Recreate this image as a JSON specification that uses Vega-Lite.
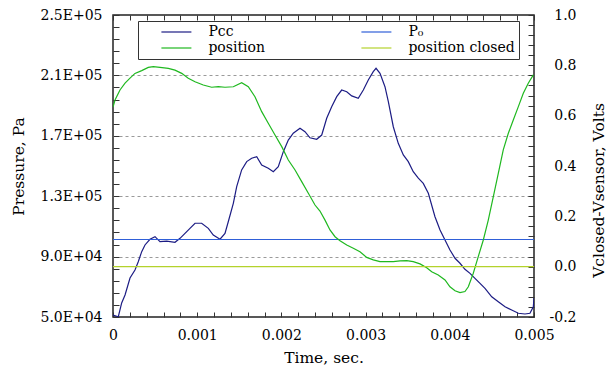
{
  "$schema": "https://vega.github.io/schema/vega-lite/v6.json",
  "width": 421,
  "height": 302,
  "autosize": "none",
  "padding": {"left": 113, "top": 15, "right": 78, "bottom": 49},
  "config": {
    "font": "DejaVu Serif",
    "view": {"stroke": "#222", "strokeWidth": 1.5},
    "axis": {
      "labelFont": "DejaVu Serif",
      "titleFont": "DejaVu Serif",
      "labelFontSize": 14,
      "labelColor": "#000",
      "titleFontSize": 15.5,
      "titleFontWeight": "normal",
      "titleColor": "#000",
      "tickColor": "#333",
      "tickWidth": 1,
      "domain": false,
      "labelFlush": false,
      "labelOverlap": false,
      "labelBound": false
    },
    "legend": {
      "labelFont": "DejaVu Serif",
      "titleFont": "DejaVu Serif",
      "labelFontSize": 14,
      "labelColor": "#000"
    }
  },
  "layer": [
    {
      "data": {
        "values": [
          {"t": 0, "P": 51300, "series": "Pcc"},
          {"t": 0.000063, "P": 50200, "series": "Pcc"},
          {"t": 0.000103, "P": 59300, "series": "Pcc"},
          {"t": 0.000143, "P": 64600, "series": "Pcc"},
          {"t": 0.000202, "P": 75800, "series": "Pcc"},
          {"t": 0.000261, "P": 81100, "series": "Pcc"},
          {"t": 0.0003, "P": 86600, "series": "Pcc"},
          {"t": 0.000341, "P": 93300, "series": "Pcc"},
          {"t": 0.00038, "P": 97700, "series": "Pcc"},
          {"t": 0.000439, "P": 101500, "series": "Pcc"},
          {"t": 0.000499, "P": 103200, "series": "Pcc"},
          {"t": 0.000558, "P": 99900, "series": "Pcc"},
          {"t": 0.000638, "P": 100300, "series": "Pcc"},
          {"t": 0.000736, "P": 99500, "series": "Pcc"},
          {"t": 0.000796, "P": 102100, "series": "Pcc"},
          {"t": 0.000855, "P": 105400, "series": "Pcc"},
          {"t": 0.000914, "P": 108700, "series": "Pcc"},
          {"t": 0.000974, "P": 112100, "series": "Pcc"},
          {"t": 0.001053, "P": 112100, "series": "Pcc"},
          {"t": 0.001132, "P": 108700, "series": "Pcc"},
          {"t": 0.001191, "P": 104300, "series": "Pcc"},
          {"t": 0.001271, "P": 101500, "series": "Pcc"},
          {"t": 0.00133, "P": 105400, "series": "Pcc"},
          {"t": 0.001369, "P": 113100, "series": "Pcc"},
          {"t": 0.001429, "P": 125300, "series": "Pcc"},
          {"t": 0.001469, "P": 136300, "series": "Pcc"},
          {"t": 0.001528, "P": 147400, "series": "Pcc"},
          {"t": 0.001588, "P": 152900, "series": "Pcc"},
          {"t": 0.001647, "P": 155100, "series": "Pcc"},
          {"t": 0.001707, "P": 156200, "series": "Pcc"},
          {"t": 0.001766, "P": 150700, "series": "Pcc"},
          {"t": 0.001844, "P": 148500, "series": "Pcc"},
          {"t": 0.001904, "P": 146200, "series": "Pcc"},
          {"t": 0.001963, "P": 149500, "series": "Pcc"},
          {"t": 0.002023, "P": 159500, "series": "Pcc"},
          {"t": 0.002082, "P": 167200, "series": "Pcc"},
          {"t": 0.002141, "P": 171700, "series": "Pcc"},
          {"t": 0.002221, "P": 175000, "series": "Pcc"},
          {"t": 0.00228, "P": 172700, "series": "Pcc"},
          {"t": 0.002339, "P": 168700, "series": "Pcc"},
          {"t": 0.002419, "P": 167700, "series": "Pcc"},
          {"t": 0.002479, "P": 170500, "series": "Pcc"},
          {"t": 0.002538, "P": 181600, "series": "Pcc"},
          {"t": 0.002597, "P": 189300, "series": "Pcc"},
          {"t": 0.002657, "P": 195900, "series": "Pcc"},
          {"t": 0.002716, "P": 200300, "series": "Pcc"},
          {"t": 0.002776, "P": 199200, "series": "Pcc"},
          {"t": 0.002835, "P": 196400, "series": "Pcc"},
          {"t": 0.002913, "P": 194800, "series": "Pcc"},
          {"t": 0.002973, "P": 200300, "series": "Pcc"},
          {"t": 0.003032, "P": 207000, "series": "Pcc"},
          {"t": 0.003091, "P": 212500, "series": "Pcc"},
          {"t": 0.003124, "P": 214700, "series": "Pcc"},
          {"t": 0.003171, "P": 211400, "series": "Pcc"},
          {"t": 0.00323, "P": 202500, "series": "Pcc"},
          {"t": 0.00327, "P": 192600, "series": "Pcc"},
          {"t": 0.003329, "P": 176000, "series": "Pcc"},
          {"t": 0.003388, "P": 165000, "series": "Pcc"},
          {"t": 0.003448, "P": 157300, "series": "Pcc"},
          {"t": 0.003507, "P": 152900, "series": "Pcc"},
          {"t": 0.003566, "P": 146200, "series": "Pcc"},
          {"t": 0.003626, "P": 141900, "series": "Pcc"},
          {"t": 0.003685, "P": 138500, "series": "Pcc"},
          {"t": 0.003745, "P": 131900, "series": "Pcc"},
          {"t": 0.003824, "P": 116400, "series": "Pcc"},
          {"t": 0.003884, "P": 107600, "series": "Pcc"},
          {"t": 0.003943, "P": 101000, "series": "Pcc"},
          {"t": 0.004002, "P": 94400, "series": "Pcc"},
          {"t": 0.004062, "P": 88900, "series": "Pcc"},
          {"t": 0.004121, "P": 85600, "series": "Pcc"},
          {"t": 0.00418, "P": 81600, "series": "Pcc"},
          {"t": 0.00424, "P": 78900, "series": "Pcc"},
          {"t": 0.004299, "P": 75600, "series": "Pcc"},
          {"t": 0.004359, "P": 72300, "series": "Pcc"},
          {"t": 0.004418, "P": 69000, "series": "Pcc"},
          {"t": 0.004498, "P": 63400, "series": "Pcc"},
          {"t": 0.004576, "P": 60100, "series": "Pcc"},
          {"t": 0.004656, "P": 56800, "series": "Pcc"},
          {"t": 0.004735, "P": 54600, "series": "Pcc"},
          {"t": 0.004814, "P": 52500, "series": "Pcc"},
          {"t": 0.004893, "P": 52000, "series": "Pcc"},
          {"t": 0.004952, "P": 52500, "series": "Pcc"},
          {"t": 0.004992, "P": 56800, "series": "Pcc"},
          {"t": 0.005, "P": 62600, "series": "Pcc"},
          {"t": 0, "P": 101325, "series": "P₀"},
          {"t": 0.005, "P": 101325, "series": "P₀"}
        ]
      },
      "mark": {"type": "line", "strokeWidth": 1.2, "clip": true},
      "encoding": {
        "x": {
          "field": "t", "type": "quantitative",
          "scale": {"domain": [0, 0.005], "nice": false, "zero": false},
          "axis": {
            "orient": "bottom",
            "values": [0,0.0002,0.0004,0.0006,0.0008,0.001,0.0012,0.0014,0.0016,0.0018,0.002,0.0022,0.0024,0.0026,0.0028,0.003,0.0032,0.0034,0.0036,0.0038,0.004,0.0042,0.0044,0.0046,0.0048,0.005],
            "labelExpr": "abs(datum.value*1000 - round(datum.value*1000)) < 1e-6 ? (datum.value == 0 ? '0' : format(datum.value, '.3f')) : ''",
            "tickSize": -5,
            "labelPadding": 16,
            "grid": false,
            "title": "Time, sec.",
            "titleY": 45,
            "titleBaseline": "alphabetic"
          }
        },
        "y": {
          "field": "P", "type": "quantitative",
          "scale": {"domain": [50000, 250000], "nice": false, "zero": false},
          "axis": {
            "orient": "left",
            "values": [50000,58000,66000,74000,82000,90000,98000,106000,114000,122000,130000,138000,146000,154000,162000,170000,178000,186000,194000,202000,210000,218000,226000,234000,242000,250000],
            "labelExpr": "datum.value % 40000 == 10000 ? (datum.value < 100000 ? format(datum.value/10000, '.1f') + 'E+04' : format(datum.value/100000, '.1f') + 'E+05') : ''",
            "tickSize": -6,
            "labelPadding": 17,
            "grid": true,
            "gridColor": "#9a9a9a",
            "gridDash": [3, 3],
            "gridWidth": 1,
            "gridOpacity": {"condition": {"test": "datum.value % 40000 == 10000 && datum.value > 50000 && datum.value < 250000", "value": 1}, "value": 0},
            "title": "Pressure, Pa",
            "titleAngle": -90,
            "titleX": -90,
            "titleY": 151,
            "titleAlign": "center",
            "titleBaseline": "alphabetic"
          }
        },
        "color": {
          "field": "series", "type": "nominal",
          "scale": {"domain": ["Pcc", "position", "P₀", "position closed"], "range": ["#1c1c84", "#1fb81f", "#2f5fd8", "#b4d22c"]},
          "legend": {
            "orient": "none",
            "legendX": 25,
            "legendY": 6,
            "columns": 2,
            "columnPadding": 93,
            "rowPadding": 2,
            "symbolType": "M-3,0L3,0",
            "symbolSize": 100,
            "symbolOffset": 9.4,
            "symbolStrokeWidth": 1.2,
            "labelFont": "DejaVu Serif",
            "labelFontSize": 14,
            "labelColor": "#000",
            "labelOffset": 25,
            "strokeColor": "#333",
            "padding": 4,
            "title": " ",
            "titleOrient": "left",
            "titlePadding": 18,
            "titleFontSize": 14
          }
        }
      }
    },
    {
      "data": {
        "values": [
          {"t": 0, "V": 0.634, "series": "position"},
          {"t": 0.000024, "V": 0.662, "series": "position"},
          {"t": 0.000083, "V": 0.702, "series": "position"},
          {"t": 0.000143, "V": 0.729, "series": "position"},
          {"t": 0.000202, "V": 0.749, "series": "position"},
          {"t": 0.000261, "V": 0.768, "series": "position"},
          {"t": 0.000341, "V": 0.779, "series": "position"},
          {"t": 0.000419, "V": 0.792, "series": "position"},
          {"t": 0.000479, "V": 0.795, "series": "position"},
          {"t": 0.000558, "V": 0.792, "series": "position"},
          {"t": 0.000657, "V": 0.788, "series": "position"},
          {"t": 0.000736, "V": 0.781, "series": "position"},
          {"t": 0.000816, "V": 0.768, "series": "position"},
          {"t": 0.000894, "V": 0.749, "series": "position"},
          {"t": 0.000974, "V": 0.735, "series": "position"},
          {"t": 0.001072, "V": 0.722, "series": "position"},
          {"t": 0.001172, "V": 0.713, "series": "position"},
          {"t": 0.001251, "V": 0.715, "series": "position"},
          {"t": 0.00133, "V": 0.713, "series": "position"},
          {"t": 0.001429, "V": 0.715, "series": "position"},
          {"t": 0.001528, "V": 0.731, "series": "position"},
          {"t": 0.001607, "V": 0.715, "series": "position"},
          {"t": 0.001686, "V": 0.675, "series": "position"},
          {"t": 0.001766, "V": 0.616, "series": "position"},
          {"t": 0.001844, "V": 0.57, "series": "position"},
          {"t": 0.001924, "V": 0.523, "series": "position"},
          {"t": 0.002004, "V": 0.477, "series": "position"},
          {"t": 0.002082, "V": 0.424, "series": "position"},
          {"t": 0.002162, "V": 0.384, "series": "position"},
          {"t": 0.002241, "V": 0.338, "series": "position"},
          {"t": 0.00232, "V": 0.292, "series": "position"},
          {"t": 0.002399, "V": 0.245, "series": "position"},
          {"t": 0.002458, "V": 0.221, "series": "position"},
          {"t": 0.002518, "V": 0.185, "series": "position"},
          {"t": 0.002577, "V": 0.146, "series": "position"},
          {"t": 0.002637, "V": 0.119, "series": "position"},
          {"t": 0.002696, "V": 0.103, "series": "position"},
          {"t": 0.002776, "V": 0.086, "series": "position"},
          {"t": 0.002854, "V": 0.073, "series": "position"},
          {"t": 0.002933, "V": 0.059, "series": "position"},
          {"t": 0.003013, "V": 0.037, "series": "position"},
          {"t": 0.003091, "V": 0.027, "series": "position"},
          {"t": 0.003171, "V": 0.02, "series": "position"},
          {"t": 0.003251, "V": 0.02, "series": "position"},
          {"t": 0.003329, "V": 0.02, "series": "position"},
          {"t": 0.003409, "V": 0.023, "series": "position"},
          {"t": 0.003488, "V": 0.024, "series": "position"},
          {"t": 0.003566, "V": 0.02, "series": "position"},
          {"t": 0.003646, "V": 0.011, "series": "position"},
          {"t": 0.003726, "V": -0.004, "series": "position"},
          {"t": 0.003785, "V": -0.02, "series": "position"},
          {"t": 0.003863, "V": -0.033, "series": "position"},
          {"t": 0.003943, "V": -0.053, "series": "position"},
          {"t": 0.004002, "V": -0.08, "series": "position"},
          {"t": 0.004062, "V": -0.096, "series": "position"},
          {"t": 0.004121, "V": -0.103, "series": "position"},
          {"t": 0.00418, "V": -0.099, "series": "position"},
          {"t": 0.00422, "V": -0.08, "series": "position"},
          {"t": 0.004279, "V": -0.026, "series": "position"},
          {"t": 0.004338, "V": 0.04, "series": "position"},
          {"t": 0.004398, "V": 0.106, "series": "position"},
          {"t": 0.004457, "V": 0.185, "series": "position"},
          {"t": 0.004517, "V": 0.278, "series": "position"},
          {"t": 0.004576, "V": 0.371, "series": "position"},
          {"t": 0.004635, "V": 0.464, "series": "position"},
          {"t": 0.004695, "V": 0.53, "series": "position"},
          {"t": 0.004754, "V": 0.583, "series": "position"},
          {"t": 0.004814, "V": 0.636, "series": "position"},
          {"t": 0.004873, "V": 0.689, "series": "position"},
          {"t": 0.004932, "V": 0.729, "series": "position"},
          {"t": 0.004992, "V": 0.762, "series": "position"},
          {"t": 0, "V": 0, "series": "position closed"},
          {"t": 0.005, "V": 0, "series": "position closed"}
        ]
      },
      "mark": {"type": "line", "strokeWidth": 1.2, "clip": true},
      "encoding": {
        "x": {
          "field": "t", "type": "quantitative",
          "scale": {"domain": [0, 0.005], "nice": false, "zero": false},
          "axis": {
            "orient": "top",
            "values": [0,0.0002,0.0004,0.0006,0.0008,0.001,0.0012,0.0014,0.0016,0.0018,0.002,0.0022,0.0024,0.0026,0.0028,0.003,0.0032,0.0034,0.0036,0.0038,0.004,0.0042,0.0044,0.0046,0.0048,0.005],
            "labels": false,
            "tickSize": -5,
            "grid": false,
            "title": null
          }
        },
        "y": {
          "field": "V", "type": "quantitative",
          "scale": {"domain": [-0.2, 1.0], "nice": false, "zero": false},
          "axis": {
            "orient": "right",
            "values": [-0.2,-0.16,-0.12,-0.08,-0.04,0,0.04,0.08,0.12,0.16,0.2,0.24,0.28,0.32,0.36,0.4,0.44,0.48,0.52,0.56,0.6,0.64,0.68,0.72,0.76,0.8,0.84,0.88,0.92,0.96,1.0],
            "labelExpr": "abs(datum.value*5 - round(datum.value*5)) < 1e-6 ? replace(format(datum.value, '.1f'), '−', '-') : ''",
            "labelAlign": "right",
            "tickSize": -6,
            "labelPadding": 48,
            "grid": false,
            "title": "Vclosed-Vsensor, Volts",
            "titleAngle": -90,
            "titleX": 64,
            "titleY": 175,
            "titleAlign": "center",
            "titleBaseline": "middle"
          }
        },
        "color": {"field": "series", "type": "nominal"}
      }
    }
  ],
  "resolve": {"scale": {"y": "independent"}, "axis": {"x": "independent"}}
}
